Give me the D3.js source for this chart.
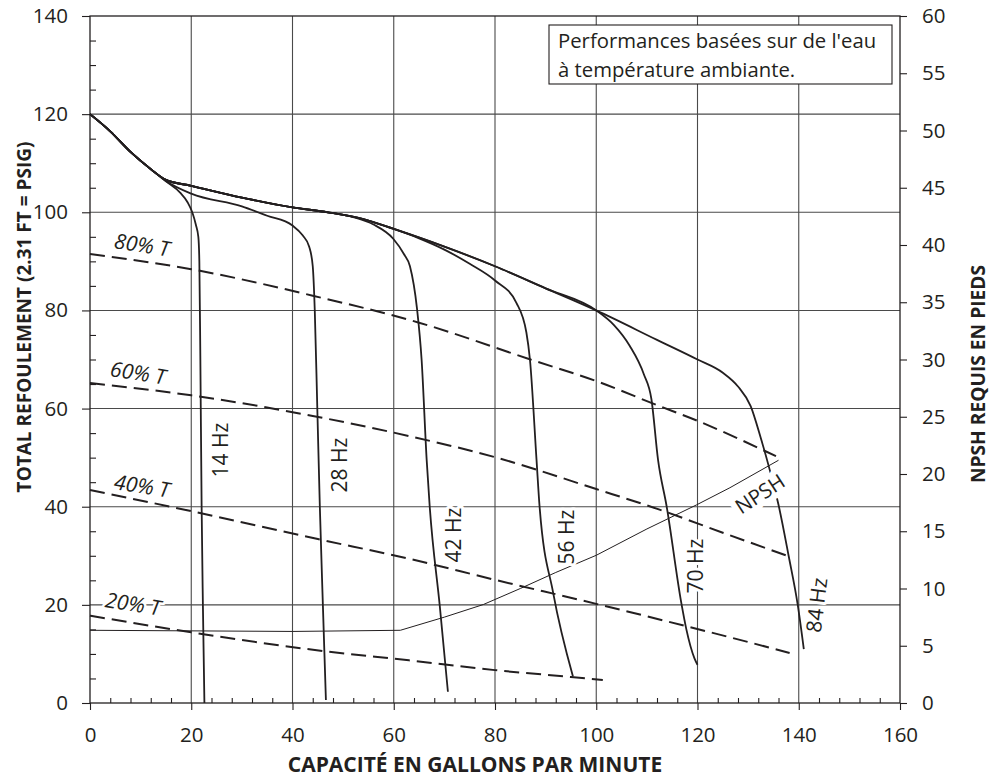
<!DOCTYPE html>
<html>
<head>
<meta charset="utf-8">
<script src="https://cdnjs.cloudflare.com/ajax/libs/d3/7.8.5/d3.min.js"></script>
<style>
  body { margin: 0; background: #fff; }
  svg text { font-family: "Open Sans", "Noto Sans", sans-serif; fill: #231f20; }
</style>
</head>
<body>
<div class="chart"></div>
<script>
// Head curves (gpm, head in ft) per drive frequency
const hz14 = [[0,120],[4,116.5],[8,112.3],[12,108.8],[15,106.3],[17.8,104],[19.3,102],[20.2,100],[20.9,97.5],[21.4,95],[21.6,90],[21.8,70],[22.05,40],[22.3,20],[22.6,0]];
const hz28 = [[0,120],[4,116.5],[8,112.3],[12,108.8],[15,106.4],[20,103.8],[30,101.2],[35,99.3],[40,97.3],[42,95.3],[43.3,93],[44,89],[44.4,80],[44.9,60],[45.4,40],[46,20],[46.6,0.6]];
const hz42 = [[0,120],[4,116.5],[8,112.3],[12,108.8],[15,106.6],[20,105.4],[30,103],[40,101],[47,100],[52,99],[56,97.5],[59.9,94.6],[62,91.5],[63.2,89],[64.6,80.3],[65.5,70],[66.5,49.6],[67.1,40.1],[69.1,19.7],[70.7,2.3]];
const hz56 = [[0,120],[4,116.5],[8,112.3],[12,108.8],[15,106.6],[20,105.4],[30,103],[40,101],[47,100],[54,98.6],[60,96.6],[65,94.7],[70,92.4],[75,89.5],[80,86.1],[84.2,81.6],[86.2,75.5],[86.9,70],[88.2,49.6],[88.8,40.1],[91.5,22.4],[95.4,5.4]];
const hz70 = [[0,120],[4,116.5],[8,112.3],[12,108.8],[15,106.6],[20,105.4],[30,103],[40,101],[47,100],[54,98.6],[60,96.6],[70,93],[80,89],[90,84.5],[100,80],[103.5,77],[106.6,72.8],[109.4,67],[110.9,61.9],[112.2,49.6],[113.9,40.1],[116.8,20.4],[117.8,15],[119.4,9.1],[120,7.8]];
const hz84 = [[0,120],[4,116.5],[8,112.3],[12,108.8],[15,106.6],[20,105.4],[30,103],[40,101],[47,100],[54,98.6],[60,96.6],[70,93],[80,89],[90,84.5],[100,80],[112,74],[120,70],[125,67.3],[128,64.5],[130.5,60.5],[132.5,54],[134.4,47],[136,40.4],[138,30],[139.8,20],[141,11]];

const hzCurves = [hz14, hz28, hz42, hz56, hz70, hz84];
const hzLabels = ["14 Hz", "28 Hz", "42 Hz", "56 Hz", "70 Hz", "84 Hz"];

// Constant torque lines (gpm, head)
const t80 = [[0,91.5],[20,88.4],[44,83],[65,77.5],[87,70],[100,65.6],[112,60.7],[120,57.5],[135.5,50.3]];
const t60 = [[0,65.2],[20,62.7],[44,58.5],[63,54.4],[80,50.1],[100,43.6],[112.5,39.4],[125,34.7],[138,29.9]];
const t40 = [[0,43.4],[20,39.1],[45,33.4],[63,29.4],[80,25.1],[100,20.2],[118,15.6],[126,13.5],[138.2,10.2]];
const t20 = [[0,17.8],[20,14.4],[46,10.6],[63,8.7],[80,6.7],[95,5.3],[101.3,4.7]];
const torqueLines = [t80, t60, t40, t20];
const torqueLabels = ["80% T", "60% T", "40% T", "20% T"];

// NPSH required (gpm, ft) on the right axis
const npsh = [[0,6.35],[20,6.3],[40,6.25],[61.3,6.35],[70,7.5],[77.7,8.6],[85,10],[92,11.4],[100,12.9],[110,15.2],[119.8,17.3],[126.4,18.8],[136,21.2]];

const xTicks = [0, 20, 40, 60, 80, 100, 120, 140, 160];
const yTicks = [0, 20, 40, 60, 80, 100, 120, 140];
const y2Ticks = [0, 5, 10, 15, 20, 25, 30, 35, 40, 45, 50, 55, 60];

const W = 991, H = 780;
const mLeft = 90, mRight = 900, mTop = 16, mBottom = 703;
const ink = "#231f20";

const svg = d3.select(".chart").append("svg").attr("width", W).attr("height", H);

const x = d3.scaleLinear().domain([0, 160]).range([mLeft, mRight]);
const y = d3.scaleLinear().domain([0, 140]).range([mBottom, mTop]);
const y2 = d3.scaleLinear().domain([0, 60]).range([mBottom, mTop]);

// grid
svg.append("g").selectAll("line").data(xTicks.slice(1, -1)).join("line")
  .attr("x1", d => x(d)).attr("x2", d => x(d)).attr("y1", mTop).attr("y2", mBottom)
  .attr("stroke", "#4a4a4a").attr("stroke-width", 1.1);
svg.append("g").selectAll("line").data(yTicks.slice(1, -1)).join("line")
  .attr("y1", d => y(d)).attr("y2", d => y(d)).attr("x1", mLeft).attr("x2", mRight)
  .attr("stroke", "#4a4a4a").attr("stroke-width", 1.1);

// axes
function styleAxis(g) {
  g.select(".domain").remove();
  g.selectAll("line").attr("stroke", ink).attr("stroke-width", 1.1);
  g.selectAll("text").style("font-size", "20.5px").attr("fill", ink);
}
svg.append("g").attr("transform", `translate(0,${mBottom})`)
  .call(d3.axisBottom(x).tickValues(d3.range(0, 161, 4).filter(v => v % 20)).tickSize(-5).tickFormat(""))
  .call(styleAxis);
svg.append("g").attr("transform", `translate(0,${mBottom})`)
  .call(d3.axisBottom(x).tickValues(xTicks).tickSize(7).tickPadding(17))
  .call(styleAxis);
svg.append("g").attr("transform", `translate(${mLeft},0)`)
  .call(d3.axisRight(y).tickValues(d3.range(0, 141, 5).filter(v => v % 20)).tickSize(6).tickFormat(""))
  .call(styleAxis);
svg.append("g").attr("transform", `translate(${mLeft},0)`)
  .call(d3.axisLeft(y).tickValues(yTicks).tickSize(8).tickPadding(14))
  .call(styleAxis);
svg.append("g").attr("transform", `translate(${mRight},0)`)
  .call(d3.axisRight(y2).tickValues(y2Ticks).tickSize(7).tickPadding(15))
  .call(styleAxis);

// frame
svg.append("rect").attr("x", mLeft).attr("y", mTop).attr("width", mRight - mLeft).attr("height", mBottom - mTop)
  .attr("fill", "none").attr("stroke", ink).attr("stroke-width", 1.3);

const line = d3.line().x(d => x(d[0])).y(d => y(d[1])).curve(d3.curveMonotoneX);

// torque lines
svg.append("g").selectAll("path").data(torqueLines).join("path")
  .attr("d", line).attr("fill", "none").attr("stroke", ink)
  .attr("stroke-width", 2).attr("stroke-dasharray", "15,7");

// NPSH
svg.append("path").datum(npsh)
  .attr("d", d3.line().x(d => x(d[0])).y(d => y2(d[1])))
  .attr("fill", "none").attr("stroke", ink).attr("stroke-width", 1);

// head curves
svg.append("g").selectAll("path").data(hzCurves).join("path")
  .attr("d", line).attr("fill", "none").attr("stroke", ink).attr("stroke-width", 1.8);

// labels with white knock-out
function halo(sel, w) {
  sel.attr("stroke", "#fff").attr("stroke-width", w).attr("paint-order", "stroke").attr("stroke-linejoin", "round");
}
const hzPos = [[228, 450, -90], [347, 465, -90], [461, 535, -90], [574, 537, -90], [703, 566, -90], [824, 606, -83]];
svg.append("g").selectAll("text").data(hzLabels).join("text")
  .attr("transform", (d, i) => `translate(${hzPos[i][0]},${hzPos[i][1]}) rotate(${hzPos[i][2]})`)
  .attr("text-anchor", "middle").style("font-size", "21px").text(d => d)
  .call(halo, 6);

const tPos = [[142, 245], [138, 373], [142, 486], [133, 604]];
svg.append("g").selectAll("text").data(torqueLabels).join("text")
  .attr("transform", (d, i) => `translate(${tPos[i][0]},${tPos[i][1]}) rotate(9)`)
  .attr("text-anchor", "middle").attr("dy", "0.35em")
  .style("font-size", "21px").style("font-style", "italic").text(d => d)
  .call(halo, 5);

svg.append("text").attr("transform", "translate(760,494) rotate(-33)")
  .attr("text-anchor", "middle").attr("dy", "0.35em").style("font-size", "20.5px").text("NPSH")
  .call(halo, 12);

// note box
svg.append("rect").attr("x", 549).attr("y", 25).attr("width", 343).attr("height", 59)
  .attr("fill", "#fff").attr("stroke", ink).attr("stroke-width", 1.1);
svg.append("text").attr("x", 558).attr("y", 48).style("font-size", "20.3px").text("Performances basées sur de l'eau");
svg.append("text").attr("x", 558).attr("y", 77).style("font-size", "20.3px").text("à température ambiante.");

// axis titles
svg.append("text").attr("x", 475).attr("y", 772).attr("text-anchor", "middle")
  .style("font-size", "21px").style("font-weight", "bold").text("CAPACITÉ EN GALLONS PAR MINUTE");
svg.append("text").attr("transform", "translate(31,317) rotate(-90)").attr("text-anchor", "middle")
  .style("font-size", "19px").style("font-weight", "bold").text("TOTAL REFOULEMENT (2.31 FT = PSIG)");
svg.append("text").attr("transform", "translate(985,374) rotate(-90)").attr("text-anchor", "middle")
  .style("font-size", "19.2px").style("font-weight", "bold").text("NPSH REQUIS EN PIEDS");
</script>
</body>
</html>
